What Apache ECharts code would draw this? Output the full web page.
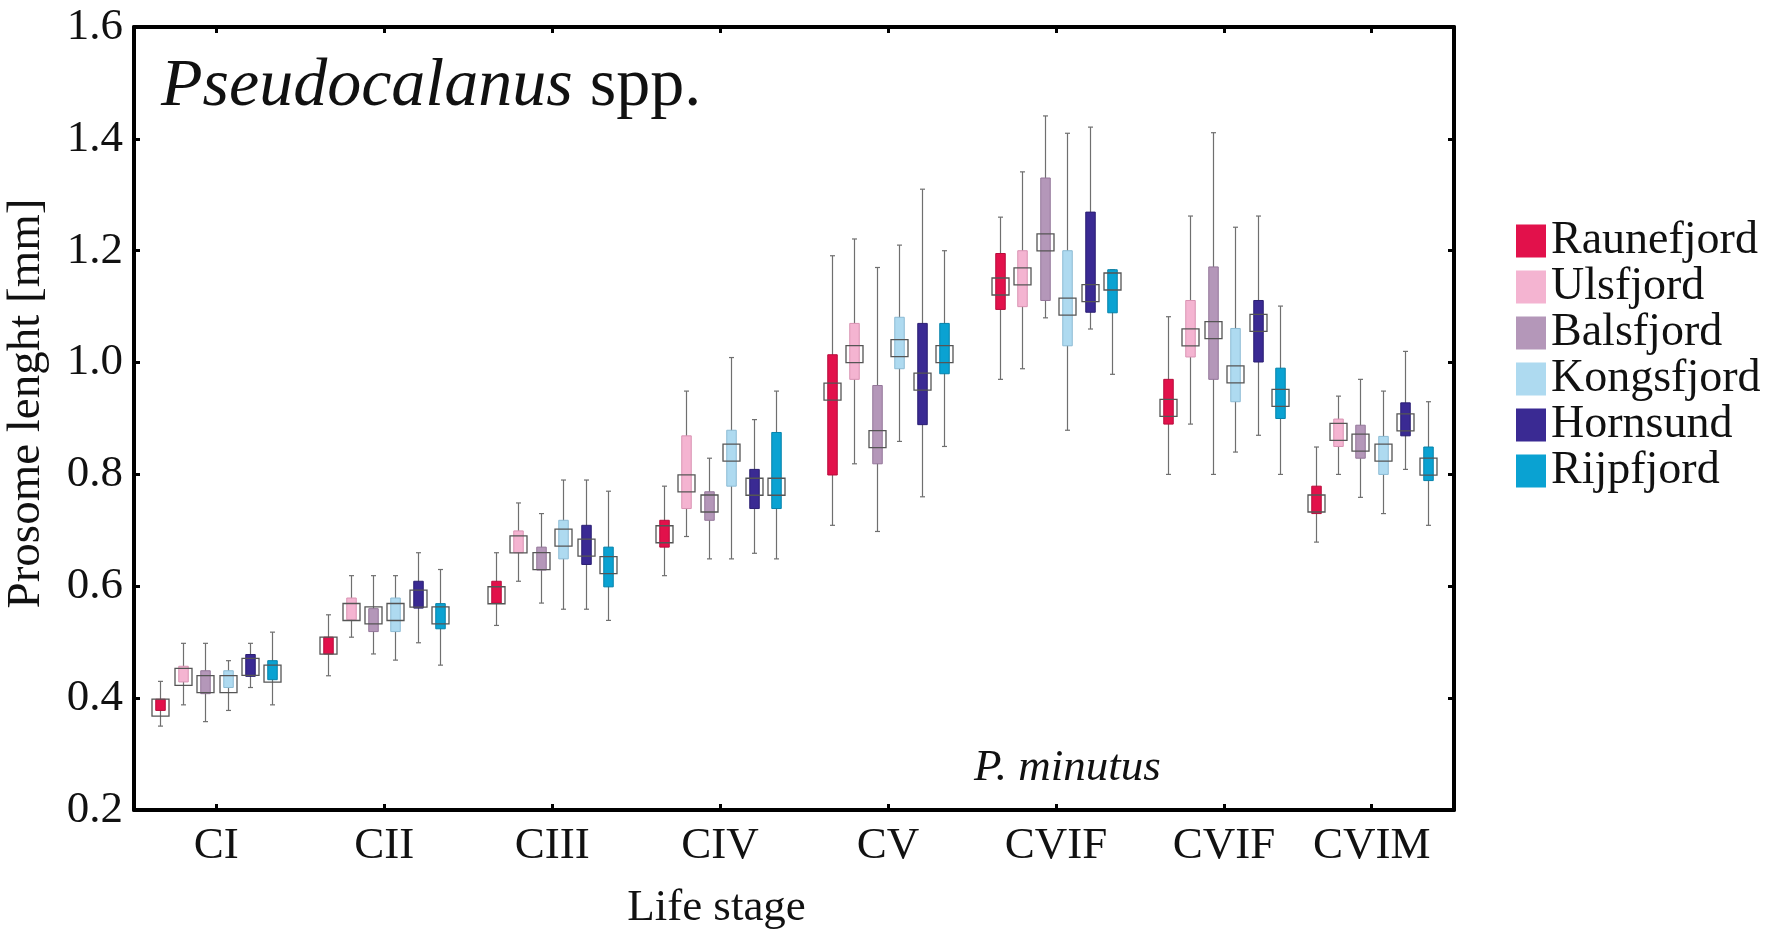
<!DOCTYPE html>
<html>
<head>
<meta charset="utf-8">
<script src="https://cdn.jsdelivr.net/npm/echarts/dist/echarts.min.js"></script>
<style>
html, body { margin: 0; padding: 0; background: #fff; }
#chart { width: 1771px; height: 929px; }
</style>
</head>
<body>
<div id="chart"></div>
<script>
// ---- data ----
const stageLabels = ['CI', 'CII', 'CIII', 'CIV', 'CV', 'CVIF', 'CVIF', 'CVIM'];
const stageX = [1, 2, 3, 4, 5, 6, 7, 7.88];
const fjords = ['Raunefjord', 'Ulsfjord', 'Balsfjord', 'Kongsfjord', 'Hornsund', 'Rijpfjord'];
const yTicks = [0.2, 0.4, 0.6, 0.8, 1.0, 1.2, 1.4, 1.6];
// each entry: [min, q1, median, q3, max] per life stage
const raunefjord = [[0.350,0.378,0.383,0.398,0.430],[0.440,0.479,0.494,0.509,0.549],[0.530,0.570,0.584,0.609,0.660],[0.619,0.670,0.693,0.718,0.779],[0.709,0.799,0.948,1.014,1.191],[0.970,1.095,1.136,1.195,1.260],[0.800,0.890,0.919,0.970,1.082],[0.679,0.730,0.748,0.779,0.849]];
const ulsfjord   = [[0.388,0.429,0.438,0.457,0.498],[0.509,0.540,0.554,0.579,0.619],[0.609,0.660,0.675,0.699,0.749],[0.689,0.739,0.784,0.869,0.949],[0.819,0.970,1.015,1.070,1.221],[0.989,1.100,1.154,1.200,1.341],[0.890,1.010,1.045,1.111,1.262],[0.800,0.850,0.876,0.899,0.940]];
const balsfjord  = [[0.358,0.408,0.425,0.449,0.498],[0.479,0.519,0.548,0.560,0.619],[0.570,0.629,0.645,0.670,0.730],[0.649,0.718,0.748,0.769,0.829],[0.698,0.819,0.863,0.959,1.170],[1.080,1.111,1.215,1.330,1.441],[0.800,0.970,1.058,1.171,1.411],[0.759,0.829,0.857,0.888,0.970]];
const kongsfjord = [[0.378,0.419,0.425,0.449,0.467],[0.468,0.519,0.554,0.579,0.619],[0.559,0.649,0.687,0.718,0.790],[0.649,0.779,0.839,0.879,1.009],[0.859,0.989,1.026,1.081,1.210],[0.879,1.030,1.100,1.200,1.410],[0.840,0.930,0.979,1.061,1.242],[0.730,0.800,0.839,0.868,0.949]];
const hornsund   = [[0.419,0.439,0.456,0.478,0.498],[0.499,0.561,0.578,0.609,0.660],[0.559,0.639,0.669,0.709,0.790],[0.659,0.739,0.778,0.809,0.898],[0.760,0.889,0.966,1.070,1.310],[1.060,1.090,1.124,1.269,1.421],[0.870,1.001,1.071,1.111,1.262],[0.809,0.869,0.893,0.928,1.020]];
const rijpfjord  = [[0.388,0.433,0.444,0.467,0.518],[0.459,0.524,0.548,0.569,0.630],[0.539,0.599,0.638,0.670,0.770],[0.649,0.739,0.778,0.875,0.949],[0.850,0.980,1.015,1.070,1.200],[0.979,1.089,1.145,1.166,1.166],[0.800,0.900,0.937,0.990,1.101],[0.709,0.789,0.814,0.849,0.930]];
const fjordValues = [raunefjord, ulsfjord, balsfjord, kongsfjord, hornsund, rijpfjord];

// ---- style ----
const fillColors = ['#E2114B', '#F4B4D1', '#B497B9', '#AEDAF0', '#3A2A93', '#0AA2D2'];
const edgeColors = ['#B80D3C', '#D993B3', '#94779A', '#8CBBD4', '#2B1F73', '#0683AB'];
const groupStep = 0.1337;
const FONT = 'Liberation Serif';

function makeRender(k) {
  return function (params, api) {
    const x = api.value(0);
    const lo = api.coord([x, api.value(1)]);
    const q1 = api.coord([x, api.value(2)]);
    const md = api.coord([x, api.value(3)]);
    const q3 = api.coord([x, api.value(4)]);
    const hi = api.coord([x, api.value(5)]);
    const cx = Math.round(lo[0]) + 0.5;
    const bw = 9.5, cap = 2.5, sq = 17;
    const wStyle = { stroke: '#6f6f6f', lineWidth: 1.2 };
    return {
      type: 'group',
      children: [
        { type: 'line', shape: { x1: cx, y1: hi[1], x2: cx, y2: lo[1] }, style: wStyle },
        { type: 'line', shape: { x1: cx - cap, y1: hi[1], x2: cx + cap, y2: hi[1] }, style: wStyle },
        { type: 'line', shape: { x1: cx - cap, y1: lo[1], x2: cx + cap, y2: lo[1] }, style: wStyle },
        { type: 'rect', shape: { x: cx - bw / 2, y: q3[1], width: bw, height: q1[1] - q3[1] },
          style: { fill: fillColors[k], stroke: edgeColors[k], lineWidth: 1 } },
        { type: 'rect', shape: { x: cx - sq / 2, y: md[1] - sq / 2, width: sq, height: sq },
          style: { fill: 'none', stroke: '#555', lineWidth: 1.3 } }
      ]
    };
  };
}

const series = fjords.map(function (name, k) {
  const off = (k - 2.5) * groupStep;
  return {
    name: name,
    type: 'custom',
    renderItem: makeRender(k),
    itemStyle: { color: fillColors[k] },
    encode: { x: 0, y: [1, 2, 3, 4, 5] },
    data: fjordValues[k].map(function (v, j) { return [stageX[j] + off].concat(v); }),
    z: 5
  };
});

const chart = echarts.init(document.getElementById('chart'), null, { renderer: 'canvas' });
const tickCommon = { show: true, inside: true, length: 6, lineStyle: { width: 3, color: '#000' } };
chart.setOption({
  backgroundColor: '#fff',
  animation: false,
  title: [
    {
      text: '{i|Pseudocalanus} spp.',
      left: 156, top: 48,
      textStyle: {
        fontFamily: FONT, fontSize: 68, fontWeight: 'normal', color: '#111', lineHeight: 68,
        rich: { i: { fontFamily: FONT, fontSize: 68, fontStyle: 'italic', color: '#111', lineHeight: 68 } }
      }
    },
    {
      text: 'P. minutus',
      left: 969, top: 741,
      textStyle: { fontFamily: FONT, fontSize: 45, fontStyle: 'italic', fontWeight: 'normal', color: '#111', lineHeight: 45 }
    }
  ],
  legend: {
    orient: 'vertical',
    align: 'left',
    left: 1516, top: 218,
    padding: 0,
    itemWidth: 30, itemHeight: 33, itemGap: 0,
    icon: 'rect',
    data: fjords,
    textStyle: { fontFamily: FONT, fontSize: 46, color: '#111', lineHeight: 45 }
  },
  grid: { left: 134, right: 317, top: 27, bottom: 119, containLabel: false, outerBoundsMode: 'none' },
  xAxis: [
    {
      type: 'value', min: 0.51, max: 8.37, position: 'bottom',
      name: 'Life stage', nameLocation: 'middle', nameGap: 76,
      nameTextStyle: { fontFamily: FONT, fontSize: 45, color: '#111', lineHeight: 45, padding: [0, 155, 0, 0] },
      axisLine: { show: true, onZero: false, lineStyle: { color: '#000', width: 4 } },
      axisTick: Object.assign({ customValues: stageX }, tickCommon),
      axisLabel: {
        customValues: stageX, margin: 14,
        fontFamily: FONT, fontSize: 45, color: '#111',
        formatter: function (v) { const i = stageX.indexOf(v); return i >= 0 ? stageLabels[i] : ''; }
      },
      splitLine: { show: false }
    },
    {
      type: 'value', min: 0.51, max: 8.37, position: 'top',
      axisLine: { show: true, onZero: false, lineStyle: { color: '#000', width: 4 } },
      axisTick: Object.assign({ customValues: stageX }, tickCommon),
      axisLabel: { show: false },
      splitLine: { show: false }
    }
  ],
  yAxis: [
    {
      type: 'value', min: 0.2, max: 1.6, interval: 0.2, position: 'left',
      name: 'Prosome lenght [mm]', nameLocation: 'middle', nameGap: 84,
      nameTextStyle: { fontFamily: FONT, fontSize: 47, color: '#111', lineHeight: 47, padding: [0, 0, 0, 30] },
      axisLine: { show: true, onZero: false, lineStyle: { color: '#000', width: 4 } },
      axisTick: tickCommon,
      axisLabel: {
        margin: 11, fontFamily: FONT, fontSize: 45, color: '#111',
        formatter: function (v) { return v.toFixed(1); }
      },
      splitLine: { show: false }
    },
    {
      type: 'value', min: 0.2, max: 1.6, interval: 0.2, position: 'right',
      axisLine: { show: true, onZero: false, lineStyle: { color: '#000', width: 4 } },
      axisTick: tickCommon,
      axisLabel: { show: false },
      splitLine: { show: false }
    }
  ],
  series: series
});
</script>
</body>
</html>
